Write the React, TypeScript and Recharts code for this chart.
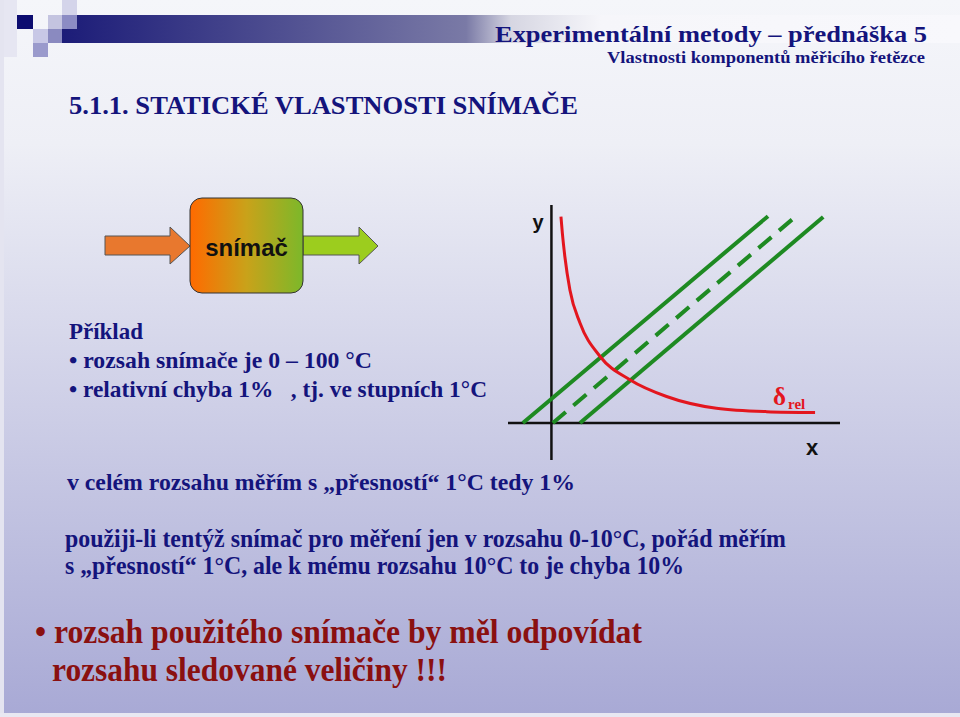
import React from 'react';
import { ComposedChart, Line, XAxis, YAxis, ReferenceLine } from 'recharts';

// characteristic of the sensor: nominal line and +-1 degC tolerance band
const upperBand = [{ x: -10.2, y: 0 }, { x: 77.3, y: 74 }];
const nominal = [{ x: 0.5, y: 0 }, { x: 87.3, y: 74 }];
const lowerBand = [{ x: 10.2, y: 0 }, { x: 97, y: 73.7 }];

// relative error curve (delta rel)
const relError = [
  { x: 3.4, y: 73.8 },
  { x: 3.9, y: 67.9 },
  { x: 4.8, y: 59.5 },
  { x: 6.6, y: 47.6 },
  { x: 10.2, y: 35.8 },
  { x: 17.3, y: 23.9 },
  { x: 28, y: 15.5 },
  { x: 41.1, y: 9.5 },
  { x: 58.9, y: 5.3 },
  { x: 76.8, y: 4.1 },
  { x: 94.1, y: 3.8 },
];

const xDomain = [-15.5, 103];
const yDomain = [-13.2, 78];

const NAVY = '#14147c';
const DARKRED = '#8a1010';
const GREEN = '#1e8a22';
const RED = '#e3161e';
const serif = '"Liberation Serif", "Times New Roman", serif';
const sans = '"Liberation Sans", Arial, sans-serif';

const Slide = () => (
  <svg width={960} height={717} style={{ position: 'absolute', left: 0, top: 0 }}>
    <defs>
      <linearGradient id="bg" x1="0" y1="0" x2="0" y2="1">
        <stop offset="0" stopColor="#f5f6fa" />
        <stop offset="0.2" stopColor="#eeeff6" />
        <stop offset="1" stopColor="#a8a9d5" />
      </linearGradient>
      <linearGradient id="bar" x1="0" y1="0" x2="1" y2="0">
        <stop offset="0" stopColor="#1c1c78" />
        <stop offset="0.45" stopColor="#7a7aa6" />
        <stop offset="0.5" stopColor="#d6d6e2" />
        <stop offset="0.6" stopColor="#f6f6fa" />
        <stop offset="1" stopColor="#f8f8fc" />
      </linearGradient>
      <linearGradient id="box" x1="0" y1="0" x2="1" y2="0">
        <stop offset="0" stopColor="#ff6a00" />
        <stop offset="0.5" stopColor="#c9a21a" />
        <stop offset="1" stopColor="#7cb82a" />
      </linearGradient>
    </defs>
    <rect x={0} y={0} width={960} height={717} fill="url(#bg)" />
    <rect x={0} y={0} width={4} height={717} fill="#e4e4f0" />
    <rect x={0} y={713} width={960} height={4} fill="#e8e8f2" />

    {/* logo squares */}
    <rect x={4} y={0} width={13} height={57} fill="#e6e6f2" />
    <rect x={17} y={15} width={16} height={14} fill="#0c0c70" />
    <rect x={48} y={15} width={14} height={14} fill="#c4c4e0" />
    <rect x={62} y={0} width={15} height={15} fill="#d4d4ea" />
    <rect x={33} y={29} width={15} height={14} fill="#c8c8e6" />
    <rect x={48} y={29} width={14} height={14} fill="#8a8ac0" />
    <rect x={33} y={43} width={15} height={14} fill="#9a9acc" />
    <rect x={62} y={15} width={898} height={28} fill="url(#bar)" />
    <rect x={62} y={15} width={15} height={14} fill="#8c8cc4" />

    <g fontFamily={serif} fontWeight="bold" fill={NAVY}>
      <text x={495} y={42} fontSize={23.5} textLength={432} lengthAdjust="spacingAndGlyphs">
        Experimentální metody – přednáška 5
      </text>
      <text x={607} y={63} fontSize={17} textLength={318} lengthAdjust="spacingAndGlyphs">
        Vlastnosti komponentů měřicího řetězce
      </text>
      <text x={69} y={114} fontSize={24.5} textLength={509} lengthAdjust="spacingAndGlyphs">
        5.1.1. STATICKÉ VLASTNOSTI SNÍMAČE
      </text>
    </g>

    {/* sensor block */}
    <polygon points="105,236 170,236 170,227 190,246 170,264 170,255 105,255" fill="#e8782e" stroke="#555" strokeWidth={1} />
    <polygon points="303,236 359,236 359,227 378,246 359,264 359,255 303,255" fill="#9ccd1e" stroke="#555" strokeWidth={1} />
    <rect x={190} y={198} width={113} height={95} rx={12} fill="url(#box)" stroke="#333" strokeWidth={1} />
    <text x={246.5} y={256} textAnchor="middle" fontFamily={sans} fontWeight="bold" fontSize={24} fill="#111">
      snímač
    </text>

    <g fontFamily={serif} fontWeight="bold" fill={NAVY}>
      <text x={69} y={339} fontSize={23} textLength={74} lengthAdjust="spacingAndGlyphs">Příklad</text>
      <text x={69} y={368} fontSize={24} textLength={303} lengthAdjust="spacingAndGlyphs">• rozsah snímače je 0 – 100 °C</text>
      <text x={69} y={397} fontSize={24} textLength={418} lengthAdjust="spacingAndGlyphs">{'• relativní chyba 1%\u00a0\u00a0\u00a0, tj. ve stupních 1°C'}</text>
      <text x={67} y={490} fontSize={24} textLength={508} lengthAdjust="spacingAndGlyphs">v celém rozsahu měřím s „přesností“ 1°C tedy 1%</text>
      <text x={65} y={547} fontSize={26} textLength={721} lengthAdjust="spacingAndGlyphs">použiji-li tentýž snímač pro měření jen v rozsahu 0-10°C, pořád měřím</text>
      <text x={65} y={574} fontSize={26} textLength={619} lengthAdjust="spacingAndGlyphs">s „přesností“ 1°C, ale k mému rozsahu 10°C to je chyba 10%</text>
    </g>
    <g fontFamily={serif} fontWeight="bold" fill={DARKRED}>
      <text x={35} y={643} fontSize={34} textLength={607} lengthAdjust="spacingAndGlyphs">• rozsah použitého snímače by měl odpovídat</text>
      <text x={52} y={681} fontSize={34} textLength={395} lengthAdjust="spacingAndGlyphs">rozsahu sledované veličiny !!!</text>
    </g>

    {/* chart labels */}
    <text x={538} y={229} textAnchor="middle" fontFamily={sans} fontWeight="bold" fontSize={20} fill="#111">y</text>
    <text x={812} y={455} textAnchor="middle" fontFamily={sans} fontWeight="bold" fontSize={22} fill="#111">x</text>
    <text x={773} y={405} fontFamily={serif} fontWeight="bold" fontSize={25} fill={RED}>δ</text>
    <text x={788} y={409} fontFamily={serif} fontWeight="bold" fontSize={15} fill={RED}>rel</text>
  </svg>
);

export default function App() {
  return (
    <div style={{ position: 'relative', width: 960, height: 717, overflow: 'hidden' }}>
      <style>{'body{margin:0}'}</style>
      <Slide />
      <div style={{ position: 'absolute', left: 508, top: 205 }}>
        <ComposedChart width={332} height={255} margin={{ top: 0, right: 0, bottom: 0, left: 0 }}>
          <XAxis type="number" dataKey="x" domain={xDomain} hide allowDataOverflow />
          <YAxis type="number" dataKey="y" domain={yDomain} hide allowDataOverflow />
          <ReferenceLine x={0} stroke="#111" strokeWidth={2.5} />
          <ReferenceLine y={0} stroke="#111" strokeWidth={2.5} />
          <Line data={upperBand} dataKey="y" type="linear" stroke={GREEN} strokeWidth={4} dot={false} isAnimationActive={false} />
          <Line data={nominal} dataKey="y" type="linear" stroke={GREEN} strokeWidth={4} strokeDasharray="17 10" dot={false} isAnimationActive={false} />
          <Line data={lowerBand} dataKey="y" type="linear" stroke={GREEN} strokeWidth={4} dot={false} isAnimationActive={false} />
          <Line data={relError} dataKey="y" type="monotone" stroke={RED} strokeWidth={3} dot={false} isAnimationActive={false} />
        </ComposedChart>
      </div>
    </div>
  );
}
